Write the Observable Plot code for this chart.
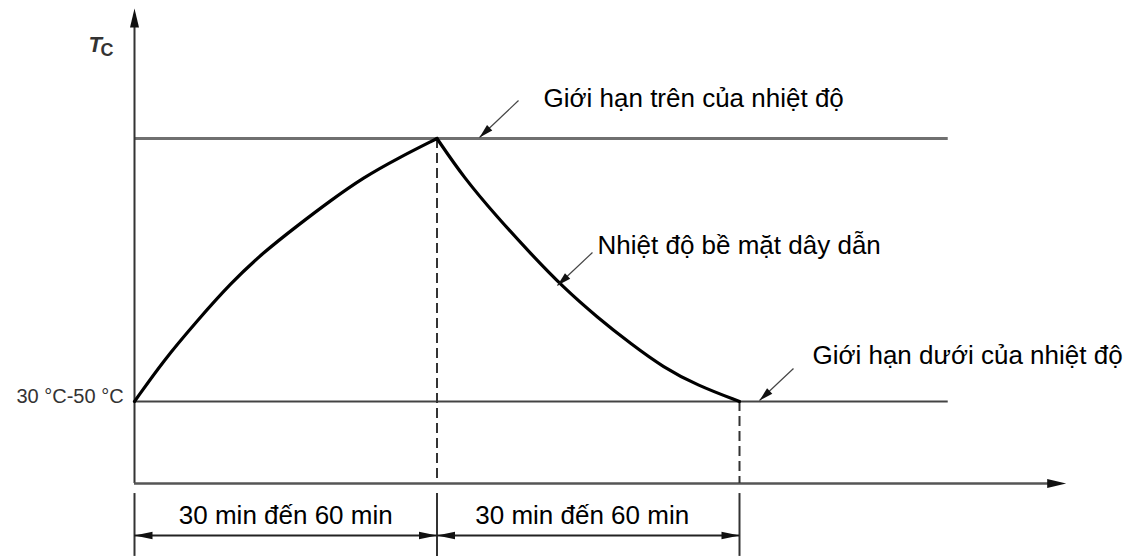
<!DOCTYPE html>
<html><head><meta charset="utf-8">
<script src="https://cdn.jsdelivr.net/npm/d3@7"></script>
<script src="https://cdn.jsdelivr.net/npm/@observablehq/plot@0.6"></script>
<style>
html,body{margin:0;padding:0;background:#fff;}
#chart{width:1134px;height:558px;overflow:hidden;}
</style></head><body><div id="chart"></div>
<script>
// Time in units of one heating / cooling interval; temperature normalised (0 = lower limit, 1 = upper limit)
const riseT = [0, 0.096, 0.208, 0.317, 0.426, 0.539, 0.648, 0.757, 0.869, 1];
const riseTemp = [0, 0.156, 0.308, 0.449, 0.567, 0.669, 0.764, 0.852, 0.924, 1];
const fallT = [1, 1.088, 1.2, 1.309, 1.418, 1.531, 1.64, 1.749, 1.861, 2];
const fallTemp = [1, 0.852, 0.7, 0.563, 0.433, 0.319, 0.22, 0.129, 0.061, 0];
const lowerLimit = 0, upperLimit = 1;
const limitEnd = 2.69;
const phaseBounds = [0, 1, 2];
const phaseLabels = ["30 min đến 60 min", "30 min đến 60 min"];
const phaseLabelT = [0.5, 1.48];
const axisLabelMain = "T", axisLabelSub = "C";
const startLabel = "30 °C-50 °C";
const notes = ["Giới hạn trên của nhiệt độ", "Nhiệt độ bề mặt dây dẫn", "Giới hạn dưới của nhiệt độ"];
const noteT = [1.352, 1.5306, 2.241];
const noteTemp = [1.1506, 0.594, 0.175];
const leaderFromT = [1.2694, 1.514, 2.1785];
const leaderFromTemp = [1.1445, 0.5665, 0.1255];
const leaderToT = [1.1405, 1.398, 2.0661];
const leaderToTemp = [1.0038, 0.4411, 0.0038];
const xAxisLevel = -0.312, xAxisEnd = 3.08, yAxisTop = 1.494;
const dimLevel = -0.5095, dimLabelLevel = -0.4323;
const extTop = -0.35, extBottom = -0.589;

const xDomain = [0, 2], xRange = [134, 739];
const yDomain = [0, 1], yRange = [401, 138];
const xs = d3.scaleLinear(xDomain, xRange), ys = d3.scaleLinear(yDomain, yRange);

const FONT = "'Liberation Sans', Arial, Helvetica, sans-serif";

function head(len, half) {
  return {draw(ctx) { ctx.moveTo(0, 0); ctx.lineTo(-half, len); ctx.lineTo(half, len); ctx.closePath(); }};
}
function angle(t0, T0, t1, T1) {
  const dx = xs(t1) - xs(t0), dy = ys(T1) - ys(T0);
  return Math.atan2(dx, -dy) * 180 / Math.PI;
}

const curve = riseT.map((t, i) => ({t, T: riseTemp[i], phase: "rise"}))
  .concat(fallT.map((t, i) => ({t, T: fallTemp[i], phase: "fall"})));

const dashed = [
  {t: fallT[0], from: fallTemp[0]},
  {t: fallT[fallT.length - 1], from: fallTemp[fallTemp.length - 1]}
];
const segs = phaseBounds.slice(0, -1).map((a, i) => ({a, b: phaseBounds[i + 1], label: phaseLabels[i], lt: phaseLabelT[i]}));
const dimHeads = segs.flatMap(s => [{t: s.a, T: dimLevel, rot: 270}, {t: s.b, T: dimLevel, rot: 90}]);
const axisHeads = [{t: 0, T: yAxisTop, rot: 0}, {t: xAxisEnd, T: xAxisLevel, rot: 90}];
const leaders = notes.map((n, i) => ({
  n, nt: noteT[i], nT: noteTemp[i],
  t0: leaderFromT[i], T0: leaderFromTemp[i], t1: leaderToT[i], T1: leaderToTemp[i],
  rot: angle(leaderFromT[i], leaderFromTemp[i], leaderToT[i], leaderToTemp[i])
}));

const plot = Plot.plot({
  width: 1134, height: 558,
  margin: 0,
  x: {type: "linear", domain: xDomain, range: xRange, axis: null},
  y: {type: "linear", domain: yDomain, range: yRange, axis: null},
  style: {fontFamily: FONT, background: "#fff"},
  marks: [
    // limits
    Plot.ruleY([upperLimit], {x1: 0, x2: limitEnd, stroke: "#707070", strokeWidth: 3}),
    Plot.ruleY([lowerLimit], {x1: 0, x2: limitEnd, stroke: "#444", strokeWidth: 2.2}),
    // axes
    Plot.ruleX([0], {y1: xAxisLevel, y2: yAxisTop - 0.05, stroke: "#333", strokeWidth: 2}),
    Plot.ruleY([xAxisLevel], {x1: 0, x2: xAxisEnd - 0.04, stroke: "#555", strokeWidth: 2.5}),
    Plot.dot(axisHeads, {x: "t", y: "T", rotate: "rot", symbol: head(19, 4.5), r: 5, fill: "#111", stroke: "none"}),
    // dashed verticals
    Plot.ruleX(dashed, {x: "t", y1: "from", y2: xAxisLevel, stroke: "#333", strokeWidth: 2, strokeDasharray: "10,5"}),
    // extension lines
    Plot.ruleX(phaseBounds, {y1: extTop, y2: extBottom, stroke: "#333", strokeWidth: 2}),
    // dimension lines
    Plot.ruleY(segs, {y: () => dimLevel, x1: "a", x2: "b", stroke: "#222", strokeWidth: 2}),
    Plot.dot(dimHeads, {x: "t", y: "T", rotate: "rot", symbol: head(18, 3.8), r: 5, fill: "#111", stroke: "none"}),
    Plot.text(segs, {x: "lt", y: () => dimLabelLevel, text: "label", fontSize: 26, fontFamily: FONT, fill: "#000", textAnchor: "middle"}),
    // curve (two phases, sharp corner at the peak)
    Plot.line(curve, {x: "t", y: "T", z: "phase", curve: "basis", stroke: "#000", strokeWidth: 3.2, strokeLinejoin: "miter"}),
    // leaders
    Plot.link(leaders, {x1: "t0", y1: "T0", x2: "t1", y2: "T1", stroke: "#444", strokeWidth: 1.2}),
    Plot.dot(leaders, {x: "t1", y: "T1", rotate: "rot", symbol: head(14, 3.8), r: 5, fill: "#111", stroke: "none"}),
    Plot.text(leaders, {x: "nt", y: "nT", text: "n", fontSize: 26, fontFamily: FONT, fill: "#000", textAnchor: "start"}),
    // axis labels
    Plot.text([startLabel], {x: -0.036, y: 0.0179, text: d => d, fontSize: 20, fontFamily: FONT, fill: "#333", textAnchor: "end"}),
    Plot.text([axisLabelMain], {x: -0.152, y: 1.3568, text: d => d, fontSize: 22, fontStyle: "italic", fontWeight: "bold", fontFamily: FONT, fill: "#333", textAnchor: "start"}),
    Plot.text([axisLabelSub], {x: -0.1124, y: 1.3365, text: d => d, fontSize: 18, fontWeight: "bold", fontFamily: FONT, fill: "#333", textAnchor: "start"})
  ]
});
document.getElementById("chart").appendChild(plot);
</script></body></html>
